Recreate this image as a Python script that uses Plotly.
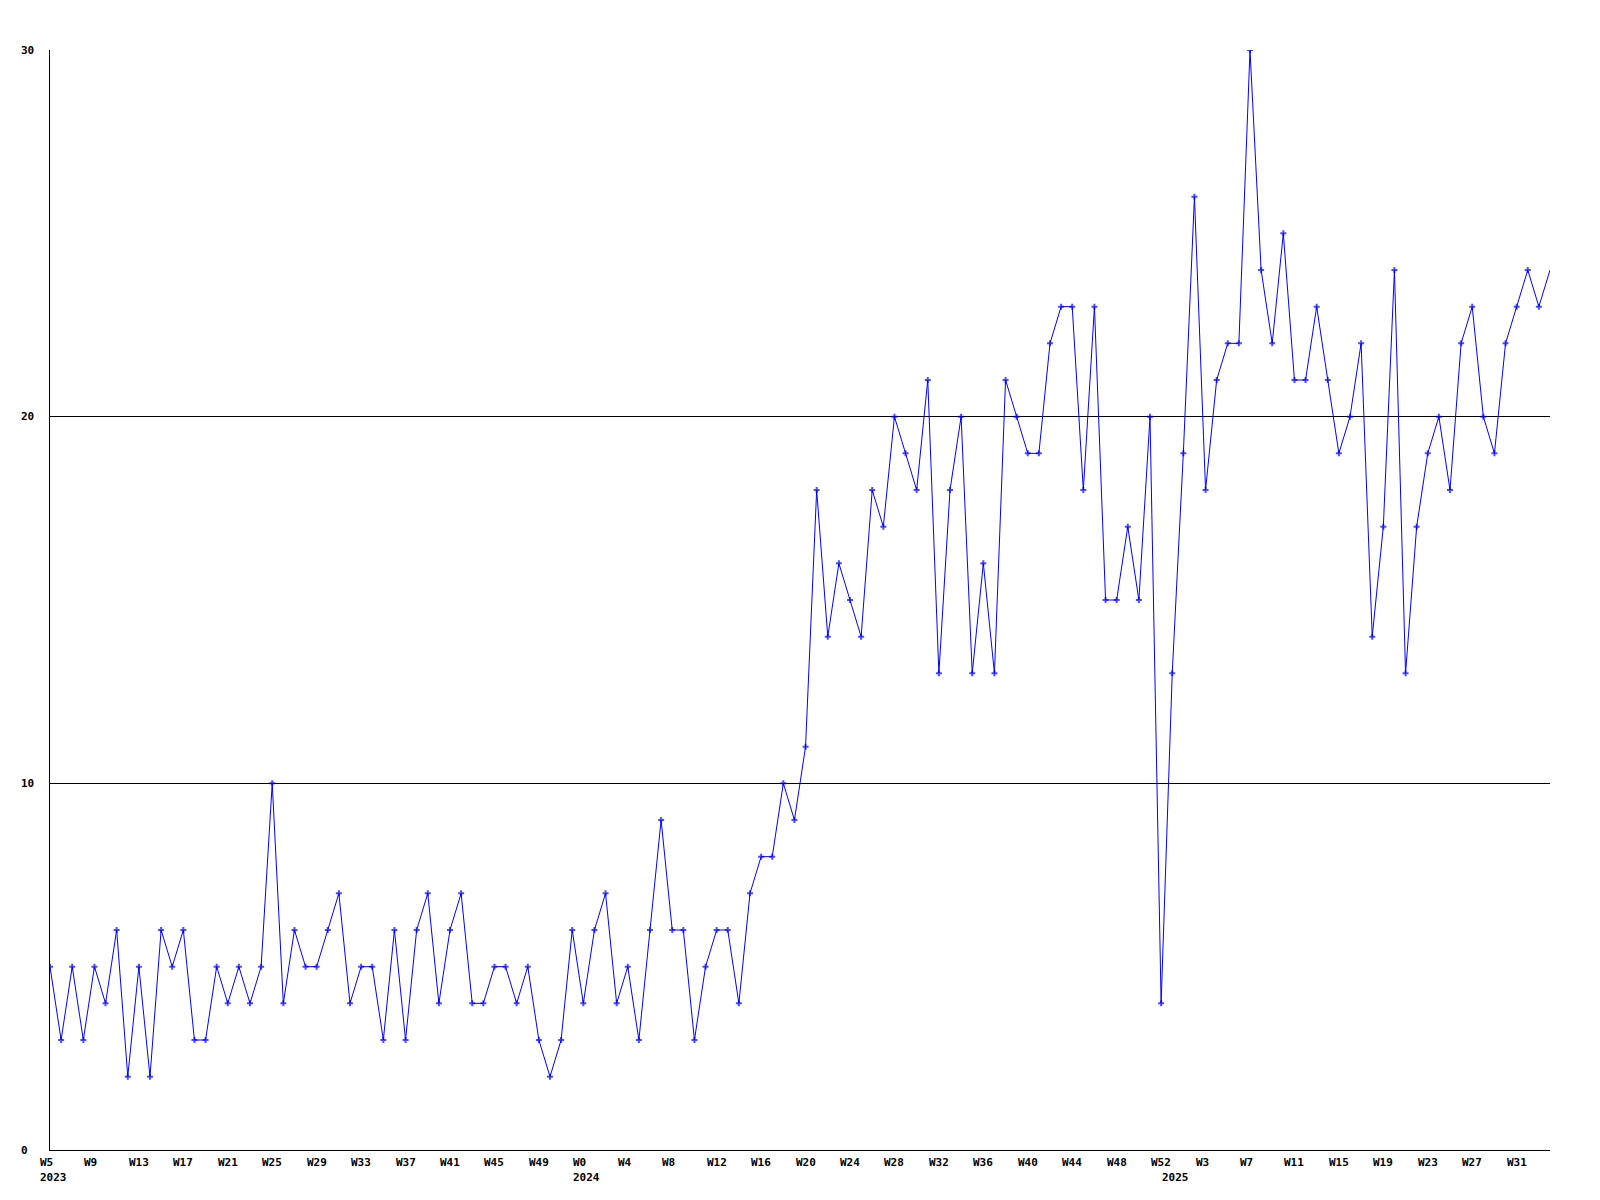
import plotly.graph_objects as go

# ---- data ----
years = [2023, 2024, 2025]
weeks_2023 = list(range(5, 53))
weeks_2024 = list(range(0, 53))
weeks_2025 = list(range(0, 35))
values_2023 = [5, 3, 5, 3, 5, 4, 6, 2, 5, 2,
               6, 5, 6, 3, 3, 5, 4, 5, 4, 5,
               10, 4, 6, 5, 5, 6, 7, 4, 5, 5,
               3, 6, 3, 6, 7, 4, 6, 7, 4, 4,
               5, 5, 4, 5, 3, 2, 3, 6]
values_2024 = [4, 6, 7, 4, 5, 3, 6, 9, 6, 6,
               3, 5, 6, 6, 4, 7, 8, 8, 10, 9,
               11, 18, 14, 16, 15, 14, 18, 17, 20, 19,
               18, 21, 13, 18, 20, 13, 16, 13, 21, 20,
               19, 19, 22, 23, 23, 18, 23, 15, 15, 17,
               15, 20, 4]
values_2025 = [13, 19, 26, 18, 21, 22, 22, 30, 24, 22,
               25, 21, 21, 23, 21, 19, 20, 22, 14, 17,
               24, 13, 17, 19, 20, 18, 22, 23, 20, 19,
               22, 23, 24, 23, 24]
y_ticks = [0, 10, 20, 30]
label_every = 4

# ---- build series ----
weeks_by_year = [weeks_2023, weeks_2024, weeks_2025]
values_by_year = [values_2023, values_2024, values_2025]
weeks, values, year_of = [], [], []
for yr, wk, vals in zip(years, weeks_by_year, values_by_year):
    weeks += wk
    values += vals
    year_of += [yr] * len(wk)
idx = list(range(len(values)))

BLUE = "#0000ff"
FONT = dict(family="DejaVu Sans Mono", size=11, color="black", weight="bold")

marker_sizes = [5] * len(values)
marker_sizes[-1] = 0

fig = go.Figure()
fig.add_trace(go.Scatter(
    x=idx, y=values, mode="lines+markers",
    line=dict(color=BLUE, width=1),
    marker=dict(symbol="cross", size=marker_sizes, color=BLUE, line=dict(width=0)),
    hoverinfo="skip", showlegend=False,
))

annotations = []
# week labels every 4th point
for i in idx[::label_every]:
    annotations.append(dict(
        x=i, y=0, xref="x", yref="paper", text=f"W{weeks[i]}",
        xanchor="left", yanchor="middle", xshift=-11, yshift=-12,
        showarrow=False, font=FONT, borderpad=0))
# year labels at first point of each year
for yr in years:
    i = year_of.index(yr)
    annotations.append(dict(
        x=i, y=0, xref="x", yref="paper", text=str(yr),
        xanchor="left", yanchor="middle", xshift=-11, yshift=-27,
        showarrow=False, font=FONT, borderpad=0))
# y labels
for v in y_ticks:
    annotations.append(dict(
        x=0, y=v, xref="paper", yref="y", text=str(v),
        xanchor="left", yanchor="middle", xshift=-30, showarrow=False,
        font=FONT, borderpad=0))

fig.update_layout(
    width=1600, height=1200,
    margin=dict(l=50, r=50, t=50, b=50),
    paper_bgcolor="white", plot_bgcolor="white",
    annotations=annotations,
    xaxis=dict(range=[0, len(values) - 1], showgrid=False, zeroline=False,
               showline=True, linecolor="black", linewidth=1,
               showticklabels=False, ticks=""),
    yaxis=dict(range=[0, 30], tickvals=y_ticks, showgrid=True,
               gridcolor="black", gridwidth=1, zeroline=False,
               showline=True, linecolor="black", linewidth=1,
               showticklabels=False, ticks=""),
)

fig.write_html("out.html", config={"displayModeBar": False},
               post_script="document.body.style.margin='0';")
